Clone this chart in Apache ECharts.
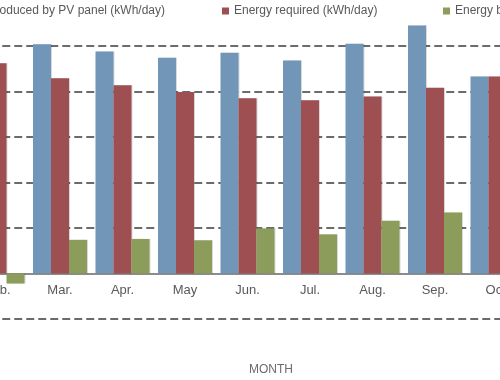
<!DOCTYPE html>
<html><head><meta charset="utf-8">
<script src="https://cdn.jsdelivr.net/npm/echarts@6/dist/echarts.min.js"></script>
<style>html,body{margin:0;padding:0;background:#fff}#c{width:500px;height:380px}</style>
</head><body><div id="c"></div>
<script>
const months = ['Feb.','Mar.','Apr.','May','Jun.','Jul.','Aug.','Sep.','Oct.'];
const produced = [4.40, 5.04, 4.88, 4.74, 4.85, 4.68, 5.05, 5.45, 4.33];
const required = [4.62, 4.29, 4.14, 3.99, 3.85, 3.81, 3.89, 4.08, 4.33];
const balance  = [-0.22, 0.74, 0.76, 0.73, 0.99, 0.86, 1.16, 1.34, 0.0];
const seriesNames = ['Energy produced by PV panel (kWh/day)','Energy required (kWh/day)','Energy balance (kWh/day)'];
const colors = ['#7196b8','#9e4f51','#8b9c5b'];
const font = 'Liberation Sans';
const chart = echarts.init(document.getElementById('c'), null, {renderer:'canvas'});
const legendBase = {top: 5, padding: 0, itemWidth: 7, itemHeight: 7, icon: 'rect', textStyle: {color: '#595959', fontSize: 12, fontFamily: font}};
chart.setOption({
  animation: false,
  color: colors,
  legend: [
    Object.assign({}, legendBase, {right: 335, data: [seriesNames[0]]}),
    Object.assign({}, legendBase, {left: 222, data: [seriesNames[1]]}),
    Object.assign({}, legendBase, {left: 443, data: [seriesNames[2]]})
  ],
  grid: {left: -33.75, right: -28.75, top: 0.5, bottom: 61, containLabel: false, outerBoundsMode: 'none'},
  xAxis: {
    type: 'category', data: months,
    axisLine: {onZero: true, lineStyle: {color: '#8c8c8c', width: 2}},
    axisTick: {show: false},
    axisLabel: {color: '#595959', fontSize: 13, fontFamily: font, margin: -35}
  },
  yAxis: {
    type: 'value', min: -1, max: 6, interval: 1,
    axisLabel: {show: false}, axisLine: {show: false}, axisTick: {show: false},
    splitLine: {show: true, showMaxLine: false, lineStyle: {color: '#6b6b6b', width: 2, type: [8,4]}}
  },
  graphic: [{type: 'text', left: 249, top: 364, style: {text: 'MONTH', fill: '#6b6b6b', fontSize: 12, fontFamily: font}}],
  series: [
    {name: seriesNames[0], type: 'bar', data: produced, barGap: '0%', barCategoryGap: '13.6%',
     itemStyle: {shadowColor: 'rgba(0,0,0,0.15)', shadowOffsetX: 1, shadowBlur: 0}},
    {name: seriesNames[1], type: 'bar', data: required, barGap: '0%', barCategoryGap: '13.6%',
     itemStyle: {shadowColor: 'rgba(0,0,0,0.15)', shadowOffsetX: 1, shadowBlur: 0}},
    {name: seriesNames[2], type: 'bar', data: balance, barGap: '0%', barCategoryGap: '13.6%',
     itemStyle: {shadowColor: 'rgba(0,0,0,0.15)', shadowOffsetX: 1, shadowBlur: 0}}
  ]
});
</script></body></html>
